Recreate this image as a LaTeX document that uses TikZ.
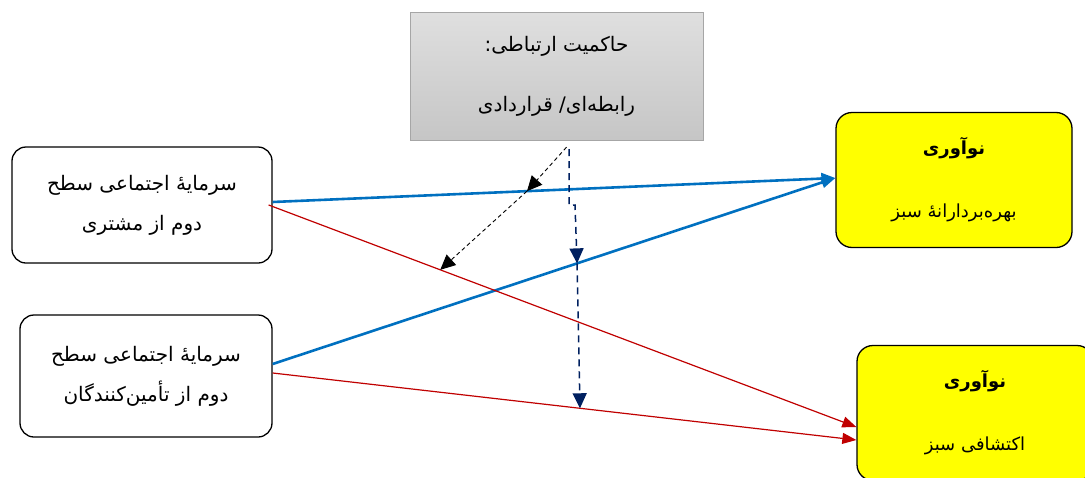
\documentclass[tikz,border=0pt]{standalone}
\usepackage{fontspec}
\newfontfamily\farsi[Script=Arabic]{DejaVu Sans}
\TeXXeTstate=1
\usepackage{tikz}
\usetikzlibrary{positioning, arrows.meta}
\usepackage{xcolor}
\definecolor{linkblue}{HTML}{0070C0}
\definecolor{linkred}{HTML}{C00000}
\definecolor{modnavy}{HTML}{002060}
\definecolor{innoyellow}{HTML}{FFFF00}

\begin{document}
\begin{tikzpicture}[
    x=1pt, y=-1pt,
    capbox/.style={draw, line width=1.3pt, rounded corners=14pt, fill=white, minimum width=260pt,
                   minimum height=116pt, align=center, font=\farsi\fontsize{20}{40}\selectfont},
    innobox/.style={draw, line width=1.3pt, rounded corners=16pt, fill=innoyellow, minimum width=236pt,
                    minimum height=135pt, align=center, font=\farsi\fontsize{18}{63}\selectfont},
    govbox/.style={draw=gray!70, top color=gray!25, bottom color=gray!45, minimum width=293pt,
                   minimum height=128pt, align=center, font=\farsi\fontsize{20}{60}\selectfont},
    bluearr/.style={-{Triangle[length=14pt,width=11pt]}, line width=2.6pt, draw=linkblue, color=linkblue},
    redarr/.style={-{Triangle[length=14pt,width=11pt]}, line width=1.2pt, draw=linkred, color=linkred},
    modarr/.style={-{Triangle[length=15pt,width=14pt]}, line width=0.9pt, dash pattern=on 4pt off 3pt},
    navyarr/.style={-{Triangle[length=15pt,width=14pt]}, line width=1.5pt, color=modnavy,
                    dash pattern=on 7pt off 5pt},
]
\useasboundingbox (0,0) rectangle (1085,477);
\clip (0,0) rectangle (1085,477);

% governance box
\node[govbox] (gov) at (556.5,76) {\beginR حاکمیت ارتباطی:\endR\\\beginR رابطه‌ای/ قراردادی\endR};

% left — social capital
\node[capbox] (capA) at (142,205) {\beginR سرمایهٔ اجتماعی سطح\endR\\\beginR دوم از مشتری\endR};
\node[capbox, minimum width=252pt, minimum height=122pt] (capB) at (146,376)
    {\beginR سرمایهٔ اجتماعی سطح\endR\\\beginR دوم از تأمین‌کنندگان\endR};

% right — innovation
\node[innobox] (innoA) at (954,180) {\bfseries\beginR نوآوری\endR\\\beginR بهره‌بردارانهٔ سبز\endR};
\node[innobox] (innoB) at (975,413) {\bfseries\beginR نوآوری\endR\\\beginR اکتشافی سبز\endR};

% links
\draw[bluearr] ([yshift=3pt]capA.east) -- coordinate[pos=0.452] (onBlueA) ([yshift=2pt]innoA.west);
\draw[bluearr] ([yshift=12pt]capB.east) -- coordinate[pos=0.541] (onBlueB) ([yshift=2pt]innoA.west);
\draw[redarr] ([xshift=-4pt]capA.east) -- coordinate[pos=0.292] (onRedA) ([yshift=-14pt]innoB.west);
\draw[redarr] ([yshift=3pt]capB.east) -- coordinate[pos=0.5265] (onRedB) ([yshift=-27pt]innoB.west);

% moderation
\coordinate (jog) at (575,205);
\draw[modarr] ([xshift=10pt,yshift=-7pt]gov.south) -- (onBlueA);
\draw[modarr] (onBlueA) -- (onRedA);
\draw[navyarr] ([xshift=12.5pt,yshift=-9pt]gov.south) -- ++(0,56) -- (jog) -- (onBlueB);
\draw[navyarr] (onBlueB) -- (onRedB);
\end{tikzpicture}
\end{document}
